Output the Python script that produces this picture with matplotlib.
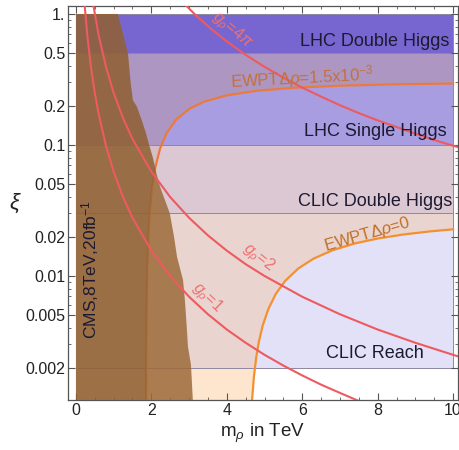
import numpy as np
import matplotlib
matplotlib.use('Agg')
import matplotlib.pyplot as plt
from matplotlib.patches import Polygon, Rectangle
from matplotlib.ticker import LogLocator, MultipleLocator, NullFormatter

plt.rcParams['font.family'] = ['Liberation Sans', 'DejaVu Sans']
plt.rcParams['mathtext.fontset'] = 'custom'
plt.rcParams['mathtext.rm'] = 'Liberation Sans'
plt.rcParams['mathtext.it'] = 'Liberation Sans:italic'

# ---- values ----
# g_rho = const lines (m_rho in TeV, xi)
g1_m = [0.23, 0.3, 0.4, 0.5, 0.6, 0.8, 1.0, 1.25, 1.5, 2.0, 2.5, 3.0, 3.5, 4.0, 4.5, 5.0, 5.5, 6.0, 6.5, 7.0, 7.5]
g1_xi = [1.18, 0.694, 0.391, 0.25, 0.174, 0.0977, 0.0625, 0.04, 0.0278, 0.0156, 0.01, 0.00694,
         0.0051, 0.0039, 0.00309, 0.0025, 0.00207, 0.00174, 0.00148, 0.00128, 0.00111]
g2_m = [0.46, 0.6, 0.8, 1.0, 1.25, 1.5, 2.0, 2.5, 3.0, 3.5, 4.0, 4.5, 5.0, 6.0, 7.0, 8.0, 9.0, 10.0, 10.2]
g2_xi = [1.18, 0.694, 0.391, 0.25, 0.16, 0.111, 0.0625, 0.04, 0.0278, 0.0204, 0.0156, 0.0123,
         0.01, 0.00694, 0.0051, 0.0039, 0.00309, 0.0025, 0.0024]
g4pi_m = [2.9, 3.2, 3.6, 4.0, 4.5, 5.0, 5.5, 6.0, 6.5, 7.0, 7.5, 8.0, 8.5, 9.0, 9.5, 10.0, 10.2]
g4pi_xi = [1.174, 0.964, 0.762, 0.617, 0.487, 0.395, 0.326, 0.274, 0.234, 0.201, 0.175, 0.154,
           0.137, 0.122, 0.109, 0.0987, 0.0949]

# EWPT contours
ew0_m = [4.60, 4.64, 4.67, 4.72, 4.78, 4.85, 4.95, 5.1, 5.3, 5.55, 5.9, 6.3, 6.8, 7.4, 8.0, 8.7, 9.4, 10.0]
ew0_xi = [0.00029, 0.00077, 0.00113, 0.00171, 0.00239, 0.00314, 0.00416, 0.00558, 0.0073, 0.00918,
          0.01143, 0.01355, 0.0157, 0.01772, 0.0193, 0.02076, 0.0219, 0.02269]
ew15_m = [1.858, 1.86, 1.87, 1.89, 1.92, 1.96, 2.02, 2.1, 2.23, 2.4, 2.65, 3.0, 3.4, 4.0, 4.8, 5.8, 7.0, 8.5, 10.0]
ew15_xi = [0.0004, 0.00113, 0.00435, 0.01068, 0.0198, 0.0313, 0.0473, 0.0666, 0.0936, 0.1225, 0.1553,
           0.1882, 0.2141, 0.2393, 0.2594, 0.2737, 0.2835, 0.2905, 0.2945]

# CMS 8 TeV exclusion, right edge
cms_m = [1.11, 1.25, 1.38, 1.45, 1.51, 1.62, 1.76, 1.85, 1.92, 2.04, 2.14, 2.23, 2.49, 2.60, 2.68,
         2.84, 2.89, 2.94, 2.97, 3.05, 3.10]
cms_xi = [1.0, 0.7, 0.5, 0.3, 0.22, 0.195, 0.15, 0.125, 0.105, 0.08, 0.06, 0.048, 0.03, 0.02, 0.014,
          0.0093, 0.0065, 0.004, 0.0029, 0.0021, 0.00113]

# reach bands (lower edge, label)
band_lo = [0.002, 0.03, 0.1, 0.5]
band_names = ['CLIC Reach', 'CLIC Double Higgs', 'LHC Single Higgs', 'LHC Double Higgs']
m_max = 10.0
xi_top = 1.0

y_lo, y_hi = 0.00113, 1.15

# colours of each slice: (allowed, outside dRho=0, outside both)
slice_cols = [(None, '#fde6cd', '#f8dcc2'),
              ('#e2e1f7', '#e9d4cf', '#e4cac4'),
              ('#d8d2f0', '#dcc8d3', '#d6bec8'),
              ('#aaa0e6', '#a89de0', '#ad97c2'),
              ('#7766d0', '#7766d0', '#7766d0')]

fig = plt.figure(figsize=(4.6, 4.5), dpi=100)
ax = fig.add_axes([68/460, 50/450, 390/460, 394/450])
ax.set_yscale('log')
ax.set_xlim(-0.21, 10.13)
ax.set_ylim(y_lo, y_hi)

low = 1e-4
v0 = [(0, low), (ew0_m[0], low)] + list(zip(ew0_m, ew0_xi)) + [(m_max, xi_top), (0, xi_top)]
v15 = [(0, low), (ew15_m[0], low)] + list(zip(ew15_m, ew15_xi)) + [(m_max, xi_top), (0, xi_top)]
clip0 = Polygon(v0, closed=True, transform=ax.transData)
clip15 = Polygon(v15, closed=True, transform=ax.transData)

edges = [y_lo] + band_lo + [xi_top]
for (lo, hi), cols in zip(zip(edges[:-1], edges[1:]), slice_cols):
    c_in, c_o1, c_o2 = cols
    if c_in:
        ax.add_patch(Rectangle((0, lo), m_max, hi - lo, fc=c_in, ec='none', zorder=1))
    r1 = Rectangle((0, lo), m_max, hi - lo, fc=c_o1, ec='none', zorder=1.1)
    ax.add_patch(r1)
    r1.set_clip_path(clip0)
    r2 = Rectangle((0, lo), m_max, hi - lo, fc=c_o2, ec='none', zorder=1.2)
    ax.add_patch(r2)
    r2.set_clip_path(clip15)

ax.hlines(band_lo + [xi_top], 0, m_max, colors='#8e86a0', lw=0.7, zorder=1.5)
ax.vlines(m_max, band_lo[0], xi_top, colors='#8e86a0', lw=0.7, zorder=1.5)

# EWPT contour lines (under the CMS region)
ax.plot(ew0_m, ew0_xi, color='#f39130', lw=1.6, zorder=2.5)
ax.plot(ew15_m, ew15_xi, color='#ec7a3c', lw=1.6, zorder=2.5)

# CMS region
cv = [(0, xi_top)] + list(zip(cms_m, cms_xi)) + [(cms_m[-1], y_lo), (0, y_lo)]
ax.add_patch(Polygon(cv, closed=True, fc='#9c6a39', ec='none', alpha=0.85, zorder=3))
dark = Polygon(cv, closed=True, fc='#3a2008', ec='none', alpha=0.1, zorder=3.1)
ax.add_patch(dark)
dark.set_clip_path(clip15)

# g_rho lines
gcol = '#ee5a5f'
for gm, gx in [(g1_m, g1_xi), (g2_m, g2_xi), (g4pi_m, g4pi_xi)]:
    ax.plot(gm, gx, color=gcol, lw=1.5, zorder=4)

# labels
tcol = '#1c1a30'
label_xi = [0.00257, 0.0367, 0.126, 0.611]
for yv, name in zip(label_xi, band_names):
    ax.text(7.93, yv, name, fontsize=13, color=tcol, ha='center', va='center', zorder=6)

ax.text(0.37, 0.0113, 'CMS,8TeV,20fb$^{-1}$', fontsize=12.5, color=tcol, rotation=90,
        ha='center', va='center', zorder=6)

ecol = '#c4703c'
ax.text(5.99, 0.324, 'EWPTΔ$\\rho$=1.5x10$^{-3}$', fontsize=12, color=ecol, rotation=3,
        ha='center', va='center', zorder=6)
ax.text(7.72, 0.0206, 'EWPTΔ$\\rho$=0', fontsize=12, color='#c07028', rotation=16,
        ha='center', va='center', zorder=6)

lcol = '#f07070'
ax.text(4.14, 0.755, '$g_\\rho$=4$\\pi$', fontsize=11.5, color=lcol, rotation=-40,
        ha='center', va='center', zorder=6)
ax.text(4.83, 0.0139, '$g_\\rho$=2', fontsize=11.5, color=lcol, rotation=-38,
        ha='center', va='center', zorder=6)
ax.text(3.47, 0.0068, '$g_\\rho$=1', fontsize=11.5, color=lcol, rotation=-44,
        ha='center', va='center', zorder=6)

# axes
yt = [0.002, 0.005, 0.01, 0.02, 0.05, 0.1, 0.2, 0.5, 1.0]
ax.set_yticks(yt, ['0.002', '0.005', '0.01', '0.02', '0.05', '0.1', '0.2', '0.5', '1.'])
ax.yaxis.set_minor_locator(LogLocator(base=10, subs=np.arange(2, 10)))
ax.yaxis.set_minor_formatter(NullFormatter())
ax.set_xticks([0, 2, 4, 6, 8, 10], ['0', '2', '4', '6', '8', '10'])
ax.xaxis.set_minor_locator(MultipleLocator(0.5))
ax.tick_params(which='both', direction='in', top=True, right=True, color='#555555',
               labelcolor='#222222', labelsize=11.5, pad=2)
ax.tick_params(which='major', length=5, width=0.8)
ax.tick_params(which='minor', length=2.5, width=0.6)
for s in ax.spines.values():
    s.set_color('#555555')
    s.set_linewidth(0.9)

ax.set_xlabel('m$_\\rho$ in TeV', fontsize=13.5, color='#222222', labelpad=3)
fig.text(15/460, 1 - 203/450, '$\\xi$', fontsize=16, color='#222222', ha='center', va='center')

fig.savefig('out.png', dpi=100)
